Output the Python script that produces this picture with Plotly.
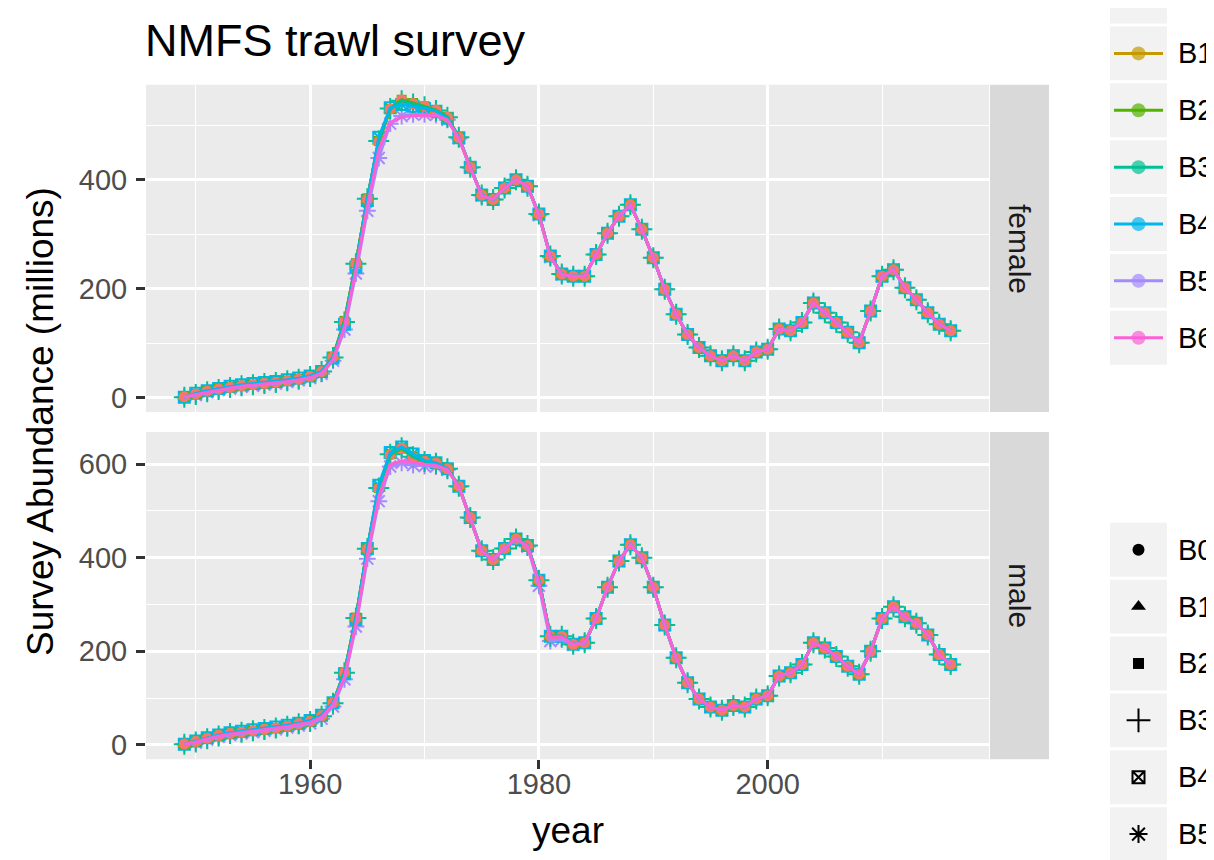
import plotly.graph_objects as go

W, H = 1214, 860

# ---------------- data ----------------
years = list(range(1949, 2017))
models = ["B0", "B1", "B2", "B3", "B4", "B5", "B6"]
colors = ["#F8766D", "#C49A00", "#53B400", "#00C094", "#00B6EB", "#A58AFF", "#FB61D7"]
symbols = ["circle", "triangle-up", "square", "cross-thin-open", "square-x-open", "asterisk-open", None]
facet_labels = ["female", "male"]

female_B0 = [2, 7, 12, 16, 19, 22, 24, 26, 28, 31,
             34, 39, 48, 75, 140, 247, 365, 470, 530, 547,
             540, 535, 528, 515, 478, 423, 372, 364, 385, 400,
             388, 337, 260, 227, 223, 223, 263, 302, 333, 354,
             309, 257, 199, 153, 116, 92, 77, 68, 77, 68,
             84, 89, 126, 123, 138, 174, 156, 138, 120, 101,
             159, 223, 235, 202, 180, 156, 135, 123]
female_B1 = [2, 7, 12, 16, 19, 22, 24, 26, 28, 31,
             34, 39, 48, 75, 140, 246, 364, 470, 529, 546,
             540, 535, 528, 515, 478, 423, 372, 364, 385, 400,
             388, 337, 260, 227, 223, 223, 263, 302, 333, 354,
             309, 257, 199, 153, 116, 92, 77, 68, 77, 68,
             84, 89, 126, 123, 138, 174, 156, 138, 120, 101,
             159, 223, 235, 202, 180, 156, 135, 123]
female_B2 = [2, 7, 12, 16, 19, 22, 24, 26, 28, 31,
             34, 39, 48, 75, 141, 247, 366, 471, 530, 547,
             541, 535, 528, 515, 478, 423, 372, 364, 385, 400,
             388, 337, 260, 227, 223, 223, 263, 302, 333, 354,
             309, 257, 199, 153, 116, 92, 77, 68, 77, 68,
             84, 89, 126, 123, 138, 174, 156, 138, 120, 101,
             159, 223, 235, 202, 180, 156, 135, 123]
female_B3 = [1, 6, 11, 15, 19, 22, 24, 26, 28, 31,
             34, 39, 48, 74, 139, 246, 365, 471, 531, 545,
             539, 534, 527, 515, 478, 423, 372, 364, 385, 400,
             388, 337, 260, 227, 223, 223, 263, 302, 333, 354,
             309, 257, 199, 153, 116, 92, 77, 68, 77, 68,
             84, 89, 126, 123, 138, 174, 156, 138, 120, 101,
             159, 223, 235, 202, 180, 156, 135, 123]
female_B4 = [1, 8, 13, 17, 21, 24, 26, 28, 30, 33,
             36, 40, 48, 73, 135, 240, 362, 478, 532, 538,
             535, 531, 526, 513, 477, 423, 372, 364, 385, 400,
             388, 337, 260, 227, 223, 223, 263, 302, 333, 354,
             309, 257, 199, 153, 116, 92, 77, 68, 77, 68,
             84, 89, 126, 123, 138, 174, 156, 138, 120, 101,
             159, 223, 235, 202, 180, 156, 135, 123]
female_B5 = [1, 5, 10, 14, 17, 20, 22, 24, 26, 29,
             32, 36, 44, 68, 125, 228, 343, 440, 503, 517,
             520, 520, 519, 510, 476, 422, 371, 364, 385, 400,
             388, 335, 258, 226, 223, 223, 263, 302, 333, 354,
             309, 257, 199, 153, 116, 92, 77, 68, 77, 68,
             84, 89, 126, 123, 138, 174, 156, 138, 120, 101,
             159, 223, 235, 202, 180, 156, 135, 123]
female_B6 = [2, 6, 11, 15, 18, 21, 23, 25, 27, 30,
             33, 37, 45, 70, 130, 235, 350, 455, 505, 515,
             518, 518, 518, 510, 476, 422, 371, 364, 385, 400,
             388, 336, 259, 226, 223, 223, 263, 302, 333, 354,
             309, 257, 199, 153, 116, 92, 77, 68, 77, 68,
             84, 89, 126, 123, 138, 174, 156, 138, 120, 101,
             159, 223, 235, 202, 180, 156, 135, 123]

male_B0 = [2, 7, 14, 20, 24, 27, 30, 33, 36, 40,
           45, 50, 62, 90, 155, 271, 419, 548, 620, 634,
           615, 606, 602, 590, 553, 486, 415, 396, 420, 440,
           426, 352, 232, 232, 215, 218, 270, 337, 393, 428,
           400, 337, 256, 186, 133, 98, 81, 74, 84, 81,
           98, 105, 147, 154, 172, 218, 207, 189, 168, 151,
           200, 270, 295, 274, 260, 235, 193, 172]
male_B1 = [2, 7, 14, 20, 24, 27, 30, 33, 36, 40,
           45, 50, 62, 90, 154, 270, 418, 547, 619, 633,
           615, 606, 602, 590, 553, 486, 415, 396, 420, 440,
           426, 352, 232, 232, 215, 218, 270, 337, 393, 428,
           400, 337, 256, 186, 133, 98, 81, 74, 84, 81,
           98, 105, 147, 154, 172, 218, 207, 189, 168, 151,
           200, 270, 295, 274, 260, 235, 193, 172]
male_B2 = [2, 7, 14, 20, 24, 27, 30, 33, 36, 40,
           45, 50, 62, 90, 155, 272, 420, 549, 621, 634,
           616, 606, 602, 590, 553, 486, 415, 396, 420, 440,
           426, 352, 232, 232, 215, 218, 270, 337, 393, 428,
           400, 337, 256, 186, 133, 98, 81, 74, 84, 81,
           98, 105, 147, 154, 172, 218, 207, 189, 168, 151,
           200, 270, 295, 274, 260, 235, 193, 172]
male_B3 = [1, 6, 13, 19, 24, 27, 30, 33, 36, 40,
           45, 50, 61, 89, 154, 271, 419, 549, 621, 635,
           616, 606, 602, 590, 553, 486, 415, 396, 420, 440,
           426, 352, 232, 232, 215, 218, 270, 337, 393, 428,
           400, 337, 256, 186, 133, 98, 81, 74, 84, 81,
           98, 105, 147, 154, 172, 218, 207, 189, 168, 151,
           200, 270, 295, 274, 260, 235, 193, 172]
male_B4 = [1, 8, 15, 21, 26, 29, 32, 35, 38, 42,
           46, 52, 63, 90, 152, 268, 420, 555, 625, 637,
           622, 608, 603, 590, 553, 486, 415, 396, 420, 440,
           426, 352, 232, 232, 215, 218, 270, 337, 393, 428,
           400, 337, 256, 186, 133, 98, 81, 74, 84, 81,
           98, 105, 147, 154, 172, 218, 207, 189, 168, 151,
           200, 270, 295, 274, 260, 235, 193, 172]
male_B5 = [1, 5, 11, 17, 21, 24, 27, 30, 33, 37,
           41, 46, 56, 82, 140, 253, 398, 521, 595, 603,
           598, 596, 595, 588, 552, 485, 414, 396, 420, 440,
           424, 340, 222, 225, 214, 218, 270, 337, 393, 428,
           400, 337, 256, 186, 133, 98, 81, 74, 84, 81,
           98, 105, 147, 154, 172, 218, 207, 189, 168, 151,
           200, 270, 295, 274, 260, 235, 193, 172]
male_B6 = [2, 6, 13, 19, 23, 26, 29, 32, 35, 39,
           44, 48, 59, 86, 145, 258, 405, 530, 600, 607,
           604, 600, 598, 588, 552, 485, 414, 396, 420, 440,
           425, 348, 230, 231, 215, 218, 270, 337, 393, 428,
           400, 337, 256, 186, 133, 98, 81, 74, 84, 81,
           98, 105, 147, 154, 172, 218, 207, 189, 168, 151,
           200, 270, 295, 274, 260, 235, 193, 172]

female = [female_B0, female_B1, female_B2, female_B3, female_B4, female_B5, female_B6]
male = [male_B0, male_B1, male_B2, male_B3, male_B4, male_B5, male_B6]

x_ticks = [1960, 1980, 2000]
x_minor = [1950, 1970, 1990, 2010]
y_ticks_female = [0, 200, 400]
y_ticks_male = [0, 200, 400, 600]

title_text = "NMFS trawl survey"
x_title = "year"
y_title = "Survey Abundance (millions)"

# ---------------- helpers ----------------
FONT = "Liberation Sans, Arial, Helvetica, sans-serif"


def px(x):
    return x / W


def py(y):
    return 1 - y / H


def expand(lo, hi, f=0.05):
    d = (hi - lo) * f
    return [lo - d, hi + d]


x_range = expand(min(years), max(years))
f_range = expand(min(min(s) for s in female), max(max(s) for s in female))
m_range = expand(min(min(s) for s in male), max(max(s) for s in male))

PANEL_L, PANEL_R = 138, 981
TOP_T, TOP_B = 77, 405
BOT_T, BOT_B = 425, 753
STRIP_L, STRIP_R = 982, 1041

fig = go.Figure()

marker_sizes = [11, 12, 10, 15, 11, 14, None]

# points (reverse order so B0 ends on top), then lines on top
for data, xa, ya in [(female, "x", "y"), (male, "x2", "y2")]:
    for i in range(len(models) - 1, -1, -1):
        if symbols[i] is None:
            continue
        is_open = symbols[i].endswith("open")
        fig.add_trace(go.Scatter(
            x=years, y=data[i], mode="markers", xaxis=xa, yaxis=ya,
            showlegend=False, hoverinfo="skip",
            marker=dict(symbol=symbols[i], size=marker_sizes[i], color=colors[i],
                        line=dict(width=2 if is_open else 0, color=colors[i])),
        ))
    for i in range(len(models)):
        fig.add_trace(go.Scatter(
            x=years, y=data[i], mode="lines", xaxis=xa, yaxis=ya,
            showlegend=False, hoverinfo="skip",
            line=dict(color=colors[i], width=3),
        ))

# ---------------- legends (drawn on an overlay pixel axis) ----------------
LEG_X0, LEG_X1 = 1102, 1159
LEG_STEP = 57.0
KEY_H = 54.0
color_leg_y0 = -11.5
shape_leg_y0 = 543
LABEL_X = 1168
shapes = []
annotations = []

for i, m in enumerate(models):
    cy = color_leg_y0 + i * LEG_STEP
    shapes.append(dict(type="rect", xref="x3", yref="y3", x0=LEG_X0, x1=LEG_X1,
                       y0=cy - KEY_H / 2, y1=cy + KEY_H / 2, fillcolor="#F2F2F2",
                       line=dict(width=0), layer="below"))
    fig.add_trace(go.Scatter(
        x=[LEG_X0 + 4, (LEG_X0 + LEG_X1) / 2, LEG_X1 - 4], y=[cy, cy, cy],
        mode="lines+markers", xaxis="x3", yaxis="y3", showlegend=False, hoverinfo="skip",
        line=dict(color=colors[i], width=3),
        marker=dict(size=[0, 14, 0], color=colors[i], symbol="circle", line=dict(width=0)),
    ))
    annotations.append(dict(text=m, x=px(LABEL_X), y=py(cy), xref="paper", yref="paper",
                            xanchor="left", yanchor="middle", showarrow=False,
                            font=dict(family=FONT, size=29, color="#000000")))

legend_shape_sizes = [12, 13, 11, 17, 12, 15, None]
for i, m in enumerate(models):
    cy = shape_leg_y0 + i * LEG_STEP
    shapes.append(dict(type="rect", xref="x3", yref="y3", x0=LEG_X0, x1=LEG_X1,
                       y0=cy - KEY_H / 2, y1=cy + KEY_H / 2, fillcolor="#F2F2F2",
                       line=dict(width=0), layer="below"))
    if symbols[i] is not None:
        is_open = symbols[i].endswith("open")
        fig.add_trace(go.Scatter(
            x=[(LEG_X0 + LEG_X1) / 2], y=[cy], mode="markers", xaxis="x3", yaxis="y3",
            showlegend=False, hoverinfo="skip",
            marker=dict(symbol=symbols[i], size=legend_shape_sizes[i], color="#000000",
                        line=dict(width=2 if is_open else 0, color="#000000")),
        ))
    if cy < H:
        annotations.append(dict(text=m, x=px(LABEL_X), y=py(cy), xref="paper", yref="paper",
                                xanchor="left", yanchor="middle", showarrow=False,
                                font=dict(family=FONT, size=29, color="#000000")))

# panel backgrounds and strips
for xa, ya in [("x", "y"), ("x2", "y2")]:
    shapes.append(dict(type="rect", xref=f"{xa} domain", yref=f"{ya} domain",
                       x0=0, x1=1, y0=0, y1=1, fillcolor="#EBEBEB",
                       line=dict(width=0), layer="below"))
for (t, b), lab in zip([(TOP_T, TOP_B), (BOT_T, BOT_B)], facet_labels):
    shapes.append(dict(type="rect", xref="paper", yref="paper",
                       x0=px(STRIP_L), x1=px(STRIP_R), y0=py(b), y1=py(t),
                       fillcolor="#D9D9D9", line=dict(width=0), layer="below"))
    annotations.append(dict(text=lab, x=px((STRIP_L + STRIP_R) / 2), y=py((t + b) / 2),
                            xref="paper", yref="paper", textangle=90,
                            xanchor="center", yanchor="middle", showarrow=False,
                            font=dict(family=FONT, size=30, color="#1A1A1A")))

# titles
annotations.append(dict(text=title_text, x=px(PANEL_L - 3), y=py(33), xref="paper", yref="paper",
                        xanchor="left", yanchor="middle", showarrow=False,
                        font=dict(family=FONT, size=45, color="#000000")))
annotations.append(dict(text=x_title, x=px((PANEL_L + PANEL_R) / 2), y=py(824),
                        xref="paper", yref="paper", xanchor="center", yanchor="middle",
                        showarrow=False, font=dict(family=FONT, size=37, color="#000000")))
annotations.append(dict(text=y_title, x=px(32), y=py((TOP_T + BOT_B) / 2),
                        xref="paper", yref="paper", textangle=-90,
                        xanchor="center", yanchor="middle", showarrow=False,
                        font=dict(family=FONT, size=37, color="#000000")))

tickfont = dict(family=FONT, size=29, color="#4D4D4D")
grid_common = dict(showgrid=True, gridcolor="#FFFFFF", gridwidth=2.8, zeroline=False,
                   showline=False)


def xaxis_cfg(anchor, labels):
    return dict(domain=[px(PANEL_L), px(PANEL_R)], anchor=anchor, range=x_range,
                tickmode="array", tickvals=x_ticks, ticktext=[str(v) for v in x_ticks],
                showticklabels=labels, ticks="outside" if labels else "",
                ticklen=9, tickwidth=2.5, tickcolor="#333333", tickfont=tickfont,
                ticklabelstandoff=-10,
                minor=dict(tickmode="array", tickvals=x_minor, showgrid=True,
                           gridcolor="#FFFFFF", gridwidth=1.4, ticks=""),
                **grid_common)


def yaxis_cfg(anchor, dom, rng, ticks):
    return dict(domain=dom, anchor=anchor, range=rng,
                tickmode="array", tickvals=ticks, ticktext=[str(v) for v in ticks],
                ticks="outside", ticklen=9, tickwidth=2.5, tickcolor="#333333",
                tickfont=tickfont, ticklabelstandoff=3,
                minor=dict(tickmode="array", tickvals=[t + 100 for t in ticks], showgrid=True,
                           gridcolor="#FFFFFF", gridwidth=1.4, ticks=""),
                **grid_common)


fig.update_layout(
    width=W, height=H, autosize=False,
    margin=dict(l=0, r=0, t=0, b=0, pad=0),
    paper_bgcolor="#FFFFFF", plot_bgcolor="rgba(0,0,0,0)",
    showlegend=False,
    xaxis=xaxis_cfg("y", False),
    yaxis=yaxis_cfg("x", [py(TOP_B), py(TOP_T)], f_range, y_ticks_female),
    xaxis2=xaxis_cfg("y2", True),
    yaxis2=yaxis_cfg("x2", [py(BOT_B), py(BOT_T)], m_range, y_ticks_male),
    xaxis3=dict(domain=[px(1090), 1], anchor="y3", range=[1090, W], visible=False,
                fixedrange=True),
    yaxis3=dict(domain=[0, 1], anchor="x3", range=[H, 0], visible=False, fixedrange=True),
    shapes=shapes,
    annotations=annotations,
)

fig.write_html("out.html")
